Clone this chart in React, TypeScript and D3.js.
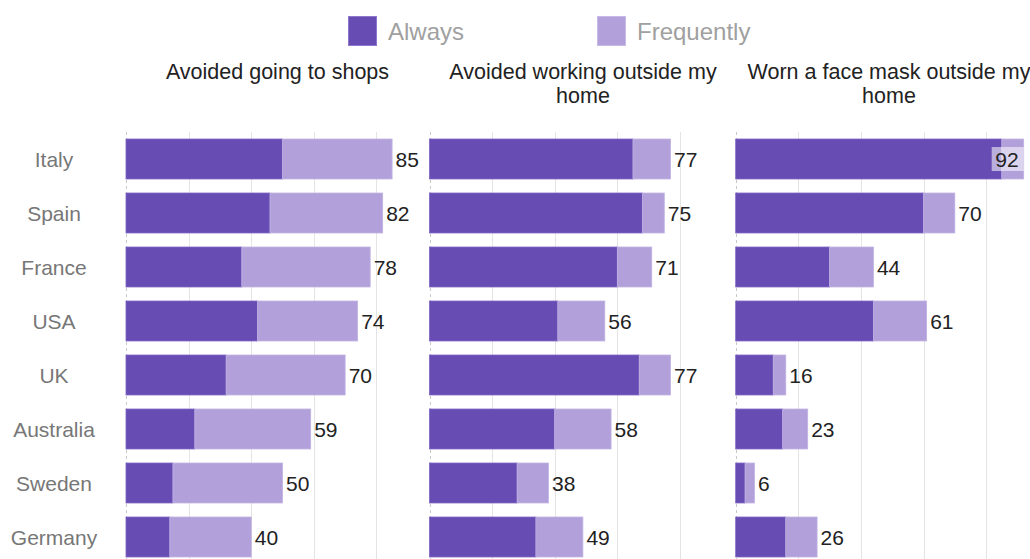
import React from "react";
import * as d3 from "d3";

const countries = ["Italy", "Spain", "France", "USA", "UK", "Australia", "Sweden", "Germany"];
const panelTitles = [
  ["Avoided going to shops"],
  ["Avoided working outside my", "home"],
  ["Worn a face mask outside my", "home"],
];
const shopsAlways = [50, 46, 37, 42, 32, 22, 15, 14];
const shopsFrequently = [35, 36, 41, 32, 38, 37, 35, 26];
const workAlways = [65, 68, 60, 41, 67, 40, 28, 34];
const workFrequently = [12, 7, 11, 15, 10, 18, 10, 15];
const maskAlways = [85, 60, 30, 44, 12, 15, 3, 16];
const maskFrequently = [7, 10, 14, 17, 4, 8, 3, 10];
const seriesNames = ["Always", "Frequently"];
const gridTicks = [20, 40, 60, 80];

const panels = [
  { title: panelTitles[0], always: shopsAlways, freq: shopsFrequently },
  { title: panelTitles[1], always: workAlways, freq: workFrequently },
  { title: panelTitles[2], always: maskAlways, freq: maskFrequently },
];

const W = 1030;
const H = 559;
const DARK = "#674cb3";
const LIGHT = "#b1a0da";
const FONT = "'Liberation Sans', Arial, sans-serif";
const panelX0 = [126, 429.5, 735.7];
const panelW = 288;
const titleX = [277.5, 583, 889];
const plotTop = 132;

export default function App() {
  const y = d3
    .scaleBand<string>()
    .domain(countries)
    .range([plotTop, plotTop + 54 * 8])
    .paddingInner(0.26)
    .paddingOuter(0.13);
  const maxTotal = 92;

  return (
    <svg
      width={W}
      height={H}
      style={{ position: "absolute", left: 0, top: 0, background: "#fff" }}
      fontFamily={FONT}
    >
      {/* legend */}
      <rect x={348.5} y={16.5} width={28} height={29} fill={DARK} stroke="#8f78cc" strokeWidth={1} />
      <text x={388} y={40} fontSize={24} fill="#a0a0a0">{seriesNames[0]}</text>
      <rect x={597.5} y={16.5} width={28} height={29} fill={LIGHT} stroke="#c7bae6" strokeWidth={1} />
      <text x={637} y={40} fontSize={24} fill="#a0a0a0">{seriesNames[1]}</text>

      {/* country labels */}
      {countries.map((c) => (
        <text
          key={c}
          x={54}
          y={(y(c) as number) + y.bandwidth() / 2 + 7.5}
          textAnchor="middle"
          fontSize={21}
          fill="#777"
        >
          {c}
        </text>
      ))}

      {panels.map((p, pi) => {
        const x = d3.scaleLinear().domain([0, maxTotal]).range([panelX0[pi], panelX0[pi] + panelW]);
        return (
          <g key={pi}>
            {p.title.map((t, li) => (
              <text
                key={li}
                x={titleX[pi]}
                y={79 + li * 24}
                textAnchor="middle"
                fontSize={21.5}
                fill="#222"
              >
                {t}
              </text>
            ))}
            {gridTicks.map((t) => (
              <line
                key={t}
                x1={Math.round(x(t)) + 0.5}
                x2={Math.round(x(t)) + 0.5}
                y1={plotTop}
                y2={H}
                stroke="#e4e4e4"
                strokeWidth={1}
              />
            ))}
            <line
              x1={Math.round(x(0)) + 0.5}
              x2={Math.round(x(0)) + 0.5}
              y1={plotTop}
              y2={H}
              stroke="#c8c8c8"
              strokeDasharray="3,3"
            />
            {countries.map((c, i) => {
              const a = p.always[i];
              const f = p.freq[i];
              const total = a + f;
              const by = y(c) as number;
              const bh = y.bandwidth();
              const inside = total / maxTotal > 0.95;
              const lx = inside ? x(total) - 5 : x(total) + 3.5;
              return (
                <g key={c}>
                  <rect x={x(0)} y={by} width={x(a) - x(0)} height={bh} fill={DARK} stroke="#7d64c2" strokeWidth={0.8} />
                  <rect x={x(a)} y={by} width={x(total) - x(a)} height={bh} fill={LIGHT} stroke="#c0b2e3" strokeWidth={0.8} />
                  {inside && (
                    <rect
                      x={lx - 27}
                      y={by + 8}
                      width={32}
                      height={24}
                      fill="#fff"
                      opacity={0.55}
                    />
                  )}
                  <text
                    x={lx}
                    y={by + bh / 2 + 8}
                    textAnchor={inside ? "end" : "start"}
                    fontSize={21}
                    fill="#222"
                  >
                    {total}
                  </text>
                </g>
              );
            })}
          </g>
        );
      })}
    </svg>
  );
}
